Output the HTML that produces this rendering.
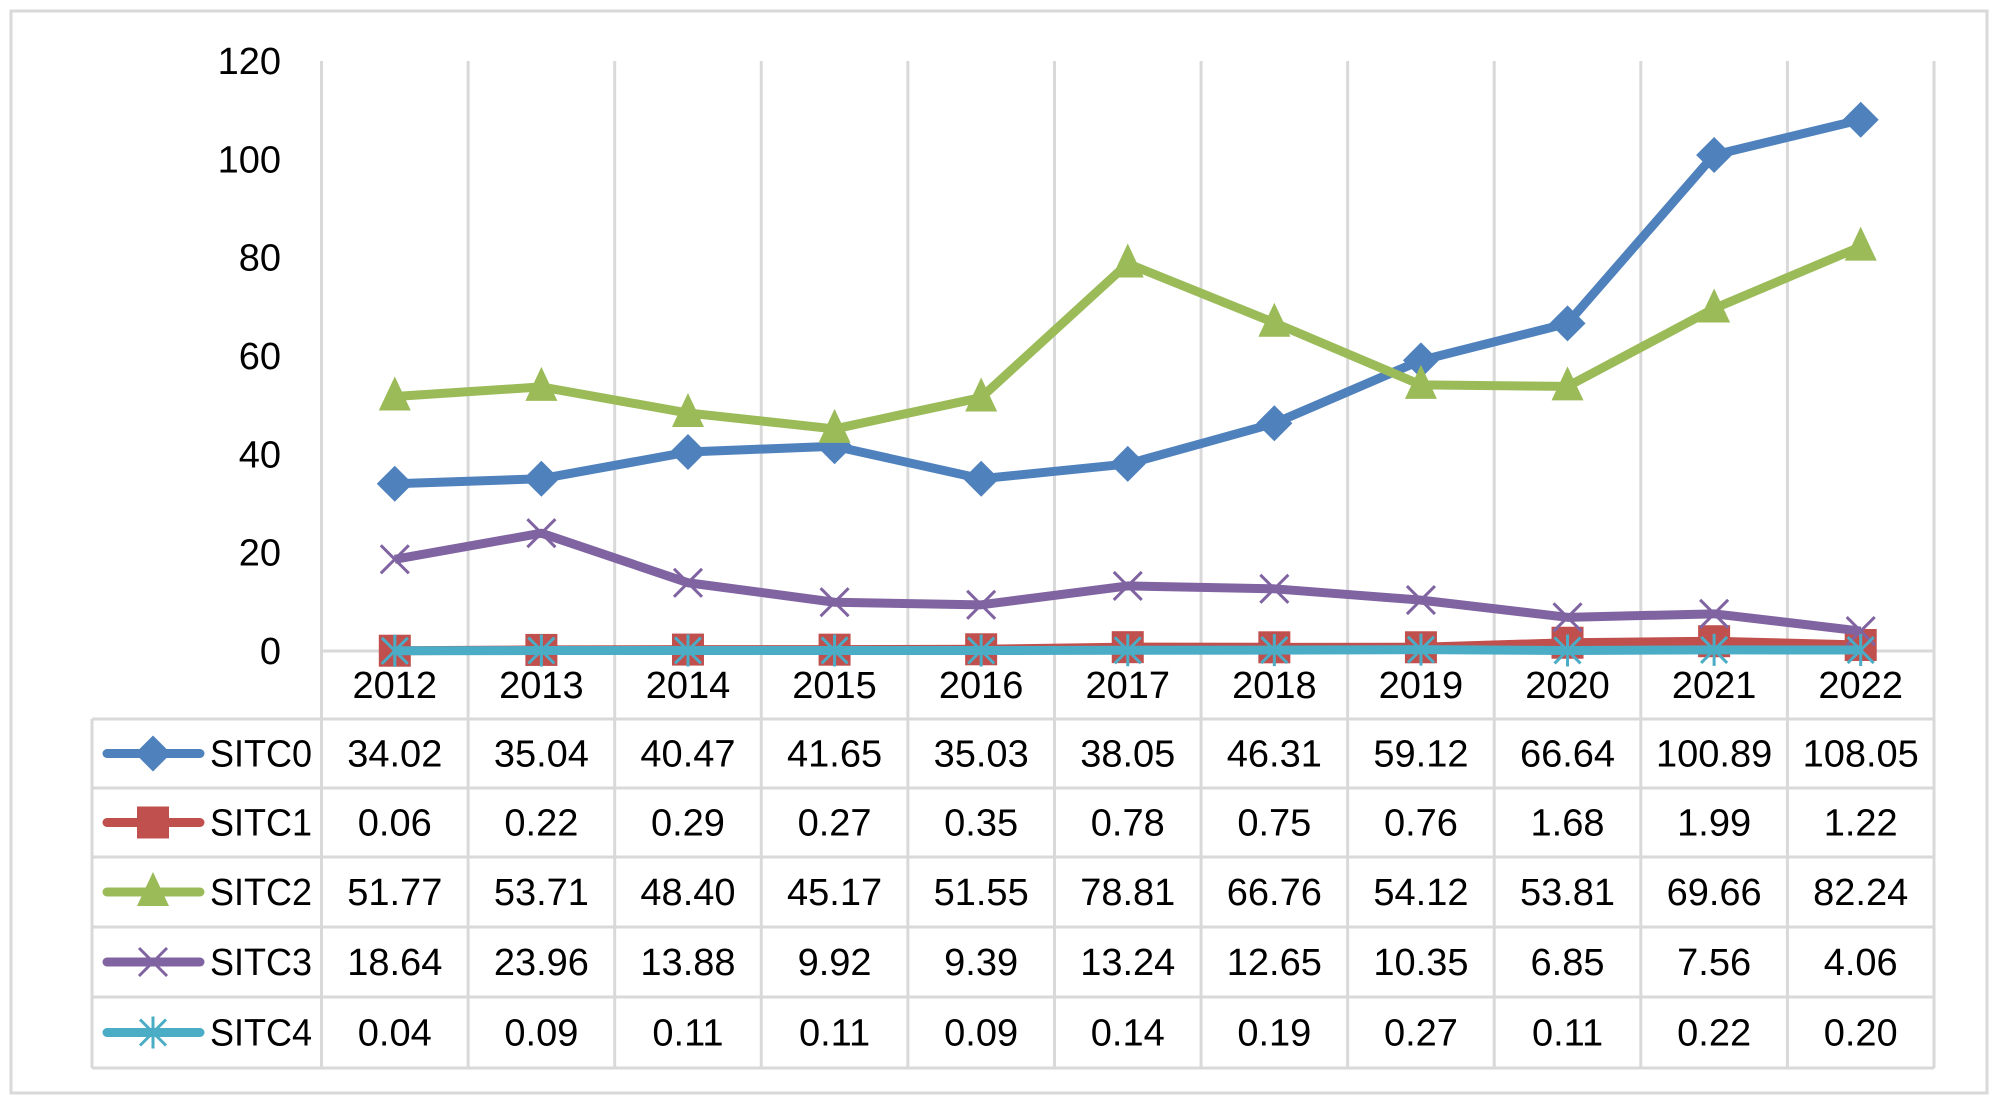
<!DOCTYPE html>
<html><head><meta charset="utf-8"><style>
html,body{margin:0;padding:0;background:#fff}
svg{display:block}
text{font-family:"Liberation Sans",sans-serif;fill:#000}
</style></head><body>
<svg id="chart" width="2000" height="1100" viewBox="0 0 2000 1100">
<rect x="11" y="11" width="1976" height="1082" fill="#fff" stroke="#d9d9d9" stroke-width="3"/>
<g id="grid"></g><g id="axis"></g><g id="table"></g><g id="series"></g>
</svg>
<script>
const years=['2012','2013','2014','2015','2016','2017','2018','2019','2020','2021','2022'];
const sitc0=[34.02,35.04,40.47,41.65,35.03,38.05,46.31,59.12,66.64,100.89,108.05];
const sitc1=[0.06,0.22,0.29,0.27,0.35,0.78,0.75,0.76,1.68,1.99,1.22];
const sitc2=[51.77,53.71,48.40,45.17,51.55,78.81,66.76,54.12,53.81,69.66,82.24];
const sitc3=[18.64,23.96,13.88,9.92,9.39,13.24,12.65,10.35,6.85,7.56,4.06];
const sitc4=[0.04,0.09,0.11,0.11,0.09,0.14,0.19,0.27,0.11,0.22,0.20];
const yTicks=[0,20,40,60,80,100,120];
const seriesNames=['SITC0','SITC1','SITC2','SITC3','SITC4'];

const NS='http://www.w3.org/2000/svg';
const L=321.5,R=1934,Y0=651,Y120=61,YMAX=120;
const cw=(R-L)/years.length;
const xS=i=>L+cw*(i+0.5);
const yS=v=>Y0-(v/YMAX)*(Y0-Y120);
function mk(tag,attrs,parent){const e=document.createElementNS(NS,tag);for(const k in attrs)e.setAttribute(k,attrs[k]);parent.appendChild(e);return e;}
const grid=document.getElementById('grid'),axis=document.getElementById('axis'),table=document.getElementById('table'),ser=document.getElementById('series');
const rows=[719,788,857,927,997,1068];
const TL=92;
for(let i=0;i<=years.length;i++){
  const l=mk('line',{x1:L+cw*i,x2:L+cw*i,y1:Y120,y2:rows[5],stroke:'#d9d9d9','stroke-width':3},grid);
  
  
}
const zl=mk('line',{x1:L,x2:R,y1:Y0,y2:Y0,stroke:'#d9d9d9','stroke-width':3},grid);


rows.forEach(y=>{const l=mk('line',{x1:TL,x2:R,y1:y,y2:y,stroke:'#d9d9d9','stroke-width':3},table);
  
  });
const tl=mk('line',{x1:TL,x2:TL,y1:rows[0],y2:rows[5],stroke:'#d9d9d9','stroke-width':3},table);


yTicks.forEach(v=>{const t=mk('text',{x:281,y:yS(v)+13,'text-anchor':'end','font-size':38},axis);t.textContent=v;
  
  });
years.forEach((yr,i)=>{const t=mk('text',{x:xS(i),y:698,'text-anchor':'middle','font-size':38},axis);t.textContent=yr;
  
  });
const colors=['#4f81bd','#c0504d','#9bbb59','#8064a2','#4bacc6'];
const data=[sitc0,sitc1,sitc2,sitc3,sitc4];
const kinds=['diamond','square','triangle','x','star'];
function marker(kind,x,y,c,p){
  const s=16;let e;
  if(kind==='diamond')e=mk('polygon',{points:`${x},${y-s-2} ${x+s+2},${y} ${x},${y+s+2} ${x-s-2},${y}`,fill:c},p);
  else if(kind==='square')e=mk('rect',{x:x-s,y:y-s,width:2*s,height:2*s,fill:c},p);
  else if(kind==='triangle')e=mk('polygon',{points:`${x},${y-s-4} ${x+s},${y+s-2} ${x-s},${y+s-2}`,fill:c},p);
  else if(kind==='x')e=mk('path',{d:`M${x-14},${y-14}L${x+14},${y+14}M${x+14},${y-14}L${x-14},${y+14}`,stroke:c,'stroke-width':3,fill:'none'},p);
  else e=mk('path',{d:`M${x-13},${y-13}L${x+13},${y+13}M${x+13},${y-13}L${x-13},${y+13}M${x},${y-16}L${x},${y+16}`,stroke:c,'stroke-width':3,fill:'none'},p);
  return e;
}
data.forEach((arr,si)=>{
  const cy=(rows[si]+rows[si+1])/2;
  const g=mk('g',{},table);
  
  
  mk('line',{x1:107,x2:200,y1:cy,y2:cy,stroke:colors[si],'stroke-width':9,'stroke-linecap':'round'},g);
  marker(kinds[si],153,cy,colors[si],g);
  const t=mk('text',{x:210,y:cy+13,'font-size':38,textLength:102,lengthAdjust:'spacingAndGlyphs'},g);t.textContent=seriesNames[si];
  arr.forEach((v,i)=>{const c=mk('text',{x:xS(i),y:cy+13,'text-anchor':'middle','font-size':38},table);c.textContent=v.toFixed(2);
    
    });
});
data.forEach((arr,si)=>{
  const g=mk('g',{},ser);
  
  
  const pts=arr.map((v,i)=>xS(i)+','+yS(v)).join(' ');
  mk('polyline',{points:pts,fill:'none',stroke:colors[si],'stroke-width':9,'stroke-linejoin':'round'},g);
  arr.forEach((v,i)=>{const m=marker(kinds[si],xS(i),yS(v),colors[si],g);
    
    });
});
</script>
</body></html>
